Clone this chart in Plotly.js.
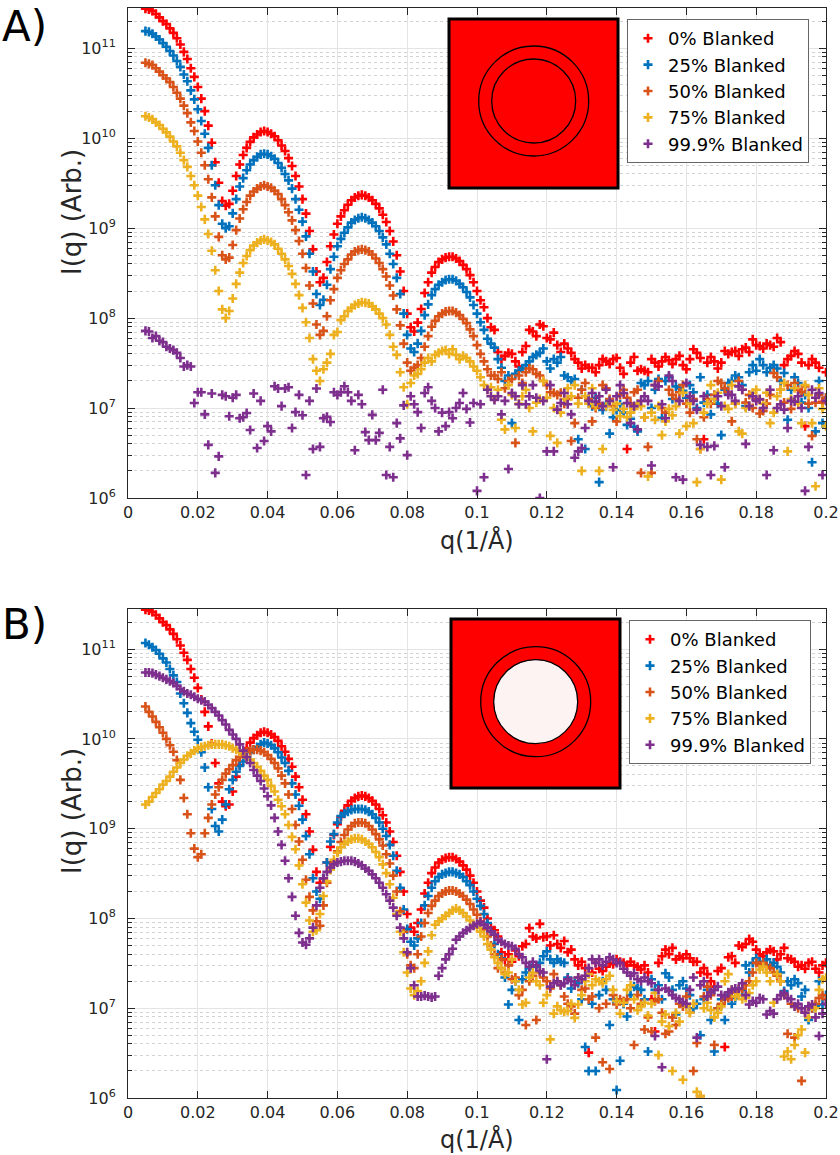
<!DOCTYPE html>
<html><head><meta charset="utf-8">
<script src="https://cdn.plot.ly/plotly-3.0.1.min.js"></script>
<style>html,body{margin:0;padding:0;background:#fff}</style>
</head><body><div id="chart" style="width:840px;height:1155px"></div>
<script>
// scattering vector q (1/Å)
const q = [
0.005,0.006,0.007,0.008,0.009,0.010,0.011,0.012,0.013,0.014,
0.015,0.016,0.017,0.018,0.019,0.020,0.021,0.022,0.023,0.024,
0.025,0.026,0.027,0.028,0.029,0.030,0.031,0.032,0.033,0.034,
0.035,0.036,0.037,0.038,0.039,0.040,0.041,0.042,0.043,0.044,
0.045,0.046,0.047,0.048,0.049,0.050,0.051,0.052,0.053,0.054,
0.055,0.056,0.057,0.058,0.059,0.060,0.061,0.062,0.063,0.064,
0.065,0.066,0.067,0.068,0.069,0.070,0.071,0.072,0.073,0.074,
0.075,0.076,0.077,0.078,0.079,0.080,0.081,0.082,0.083,0.084,
0.085,0.086,0.087,0.088,0.089,0.090,0.091,0.092,0.093,0.094,
0.095,0.096,0.097,0.098,0.099,0.100,0.101,0.102,0.103,0.104,
0.105,0.106,0.107,0.108,0.109,0.110,0.111,0.112,0.113,0.114,
0.115,0.116,0.117,0.118,0.119,0.120,0.121,0.122,0.123,0.124,
0.125,0.126,0.127,0.128,0.129,0.130,0.131,0.132,0.133,0.134,
0.135,0.136,0.137,0.138,0.139,0.140,0.141,0.142,0.143,0.144,
0.145,0.146,0.147,0.148,0.149,0.150,0.151,0.152,0.153,0.154,
0.155,0.156,0.157,0.158,0.159,0.160,0.161,0.162,0.163,0.164,
0.165,0.166,0.167,0.168,0.169,0.170,0.171,0.172,0.173,0.174,
0.175,0.176,0.177,0.178,0.179,0.180,0.181,0.182,0.183,0.184,
0.185,0.186,0.187,0.188,0.189,0.190,0.191,0.192,0.193,0.194,
0.195,0.196,0.197,0.198,0.199,0.200];

const seriesNames = ['0% Blanked','25% Blanked','50% Blanked','75% Blanked','99.9% Blanked'];
const seriesColors = ['#FF0000','#0072BD','#D95319','#EDB120','#7E2F8E'];

// ---------- Panel A : I(q) ----------
const A_0 = [
2.75e11,2.7e11,2.6e11,2.4e11,2.2e11,2.0e11,1.86e11,1.66e11,1.48e11,1.29e11,
1.1e11,9.1e10,7.6e10,6.0e10,4.8e10,3.7e10,2.75e10,2.0e10,1.38e10,8.9e9,
5.4e9,3.2e9,2.0e9,1.78e9,1.86e9,2.6e9,3.8e9,5.1e9,6.5e9,7.8e9,
9.1e9,1.02e10,1.1e10,1.17e10,1.2e10,1.17e10,1.12e10,1.05e10,9.5e9,8.3e9,
7.2e9,6.0e9,4.9e9,3.8e9,2.9e9,2.1e9,1.45e9,9.3e8,5.8e8,3.3e8,
2.5e8,2.8e8,4.2e8,6.3e8,8.5e8,1.12e9,1.35e9,1.58e9,1.82e9,2.04e9,
2.19e9,2.29e9,2.34e9,2.29e9,2.19e9,2.04e9,1.86e9,1.66e9,1.41e9,1.17e9,
9.3e8,7.1e8,5.0e8,3.3e8,2.0e8,1.12e8,7.9e7,7.1e7,8.9e7,1.26e8,
1.9e8,2.5e8,3.2e8,3.7e8,4.2e8,4.5e8,4.7e8,4.8e8,4.8e8,4.6e8,
4.3e8,3.9e8,3.5e8,3.0e8,2.5e8,2.0e8,1.58e8,1.32e8,1.0e8,7.9e7,
7.4e7,4.2e7,3.5e7,3.8e7,4.1e7,4.0e7,3.3e7,2.9e7,4.2e7,4.9e7,
7.4e7,7.1e7,6.3e7,8.5e7,8.1e7,6.0e7,5.8e7,6.9e7,5.0e7,4.2e7,
5.2e7,4.6e7,4.1e7,3.5e7,3.2e7,2.75e7,3.0e7,2.8e7,2.8e7,2.5e7,
3.0e7,3.5e7,3.3e7,3.1e7,3.5e7,3.6e7,2.8e7,2.4e7,3.5e6,3.2e7,
3.7e7,2.6e7,2.7e7,2.6e7,2.5e7,3.5e7,3.2e7,2.9e7,3.3e7,3.7e7,
3.4e7,3.1e7,3.5e7,3.8e7,3.0e7,2.7e7,3.5e7,4.5e7,4.1e7,3.6e7,
4.5e6,3.2e7,3.7e7,3.3e7,2.75e7,3.2e7,4.3e7,4.0e7,4.2e7,4.3e7,
3.8e7,4.5e7,4.7e7,4.2e7,5.8e7,5.0e7,4.9e7,4.6e7,5.2e7,5.0e7,
4.8e7,6.0e7,5.4e7,3.0e7,3.5e7,3.8e7,4.3e7,4.0e7,3.2e7,6.3e6,
3.0e7,3.5e7,3.2e7,2.8e7,1.17e7,2.5e7];

const A_25 = [
1.55e11,1.52e11,1.45e11,1.35e11,1.25e11,1.14e11,1.04e11,9.3e10,8.3e10,7.2e10,
6.2e10,5.1e10,4.3e10,3.4e10,2.7e10,2.1e10,1.55e10,1.12e10,7.8e9,5.0e9,
3.0e9,1.8e9,1.12e9,1.0e9,1.05e9,1.46e9,2.1e9,2.9e9,3.6e9,4.4e9,
5.1e9,5.7e9,6.2e9,6.6e9,6.7e9,6.6e9,6.3e9,5.9e9,5.3e9,4.7e9,
4.0e9,3.4e9,2.75e9,2.1e9,1.6e9,1.18e9,8.1e8,5.2e8,3.3e8,1.85e8,
1.4e8,1.6e8,2.35e8,3.5e8,4.8e8,6.3e8,7.6e8,8.9e8,1.02e9,1.15e9,
1.23e9,1.29e9,1.32e9,1.29e9,1.23e9,1.15e9,1.05e9,9.3e8,7.9e8,6.6e8,
5.2e8,4.0e8,2.8e8,1.85e8,1.12e8,6.5e7,4.6e7,4.2e7,5.2e7,7.2e7,
1.08e8,1.42e8,1.8e8,2.1e8,2.35e8,2.5e8,2.65e8,2.7e8,2.7e8,2.6e8,
2.4e8,2.2e8,1.95e8,1.7e8,1.4e8,1.12e8,9.0e7,7.4e7,5.9e7,5.2e7,
4.7e7,3.5e7,2.8e7,2.0e7,2.3e7,6.8e6,2.4e7,2.6e7,2.75e7,3.0e7,
3.3e7,3.7e7,3.9e7,4.1e7,4.6e7,3.3e7,2.75e7,3.5e7,3.2e7,3.7e7,
2.3e7,2.2e7,2.0e7,2.1e7,4.5e6,1.6e7,3.5e6,1.26e7,1.05e7,1.3e7,
1.5e6,9.5e6,1.12e7,5.2e6,7.9e6,9.5e6,1.1e7,8.9e6,6.5e6,7.6e6,
6.2e6,5.5e6,1.9e7,1.8e7,2.0e7,1.0e7,1.6e7,2.1e7,7.8e6,2.0e7,
2.2e7,1.26e7,1.74e7,1.66e7,1.55e7,1.3e7,1.8e7,1.5e7,1.0e7,2.2e7,
1.15e7,1.4e7,8.5e6,1.26e7,1.12e7,5.0e6,1.6e7,1.9e7,2.0e7,2.3e7,
2.2e7,1.8e7,1.05e7,2.5e7,3.0e7,2.6e7,3.5e7,3.0e7,2.5e7,2.8e7,
3.0e7,2.75e7,2.0e7,2.45e7,7.4e6,1.6e7,2.2e7,1.9e7,1.15e7,1.4e7,
1.0e7,2.5e6,5.5e6,2.0e7,6.8e6,1.3e7];

const A_50 = [
6.9e10,6.7e10,6.5e10,6.0e10,5.5e10,5.0e10,4.6e10,4.2e10,3.7e10,3.2e10,
2.75e10,2.3e10,1.9e10,1.5e10,1.2e10,9.2e9,6.9e9,5.0e9,3.5e9,2.2e9,
1.35e9,8.0e8,5.0e8,4.5e8,4.7e8,6.5e8,9.5e8,1.28e9,1.62e9,1.95e9,
2.3e9,2.55e9,2.75e9,2.9e9,3.0e9,2.9e9,2.8e9,2.6e9,2.4e9,2.1e9,
1.8e9,1.5e9,1.22e9,9.5e8,7.2e8,5.2e8,3.6e8,2.3e8,1.45e8,8.5e7,
6.5e7,7.2e7,1.05e8,1.58e8,2.1e8,2.8e8,3.4e8,4.0e8,4.5e8,5.1e8,
5.5e8,5.7e8,5.8e8,5.7e8,5.5e8,5.1e8,4.6e8,4.1e8,3.5e8,2.9e8,
2.3e8,1.78e8,1.25e8,8.3e7,5.2e7,3.2e7,2.6e7,2.8e7,3.0e7,3.6e7,
4.8e7,6.3e7,8.0e7,9.3e7,1.05e8,1.12e8,1.18e8,1.2e8,1.2e8,1.15e8,
1.08e8,9.8e7,8.8e7,7.5e7,6.3e7,5.0e7,4.0e7,3.3e7,2.7e7,2.3e7,
2.3e7,2.1e7,2.5e7,1.66e7,2.0e7,2.1e7,4.1e6,2.3e7,1.9e7,2.5e7,
2.75e7,2.7e7,2.4e7,2.3e7,2.0e7,1.8e7,1.5e7,1.48e7,1.4e7,1.48e7,
1.12e7,1.26e7,4.3e6,6.8e6,1.3e7,1.6e7,1.9e7,1.26e7,7.1e6,1.0e7,
1.12e7,1.8e7,1.66e7,1.26e7,1.05e7,7.1e6,1.4e7,1.6e7,1.3e7,1.12e7,
1.5e7,1.6e7,1.9e6,7.9e6,3.7e6,1.9e6,1.8e7,2.0e7,1.0e7,8.9e6,
1.6e7,1.4e7,1.26e7,1.5e7,1.8e7,1.12e7,8.9e6,1.26e7,4.5e6,3.5e6,
7.9e6,1.26e7,1.12e7,1.4e7,2.0e7,1.9e7,1.66e7,1.5e7,7.1e6,1.12e7,
2.0e7,1.6e7,1.15e7,1.4e7,1.0e7,1.26e7,8.7e6,9.3e6,1.12e7,1.4e7,
2.45e7,2.2e7,1.6e7,1.15e7,1.8e7,9.8e6,1.9e7,1.6e7,1.5e7,1.74e7,
1.12e7,4.9e6,1.15e7,1.4e7,1.15e7,1.3e7];

const A_75 = [
1.75e10,1.7e10,1.62e10,1.5e10,1.4e10,1.27e10,1.16e10,1.04e10,9.2e9,8.1e9,
6.9e9,5.7e9,4.8e9,3.8e9,3.0e9,2.3e9,1.72e9,1.25e9,8.6e8,5.6e8,
3.4e8,2.0e8,1.25e8,1.0e8,1.2e8,1.65e8,2.4e8,3.2e8,4.1e8,4.9e8,
5.7e8,6.4e8,6.9e8,7.3e8,7.5e8,7.3e8,7.0e8,6.6e8,5.9e8,5.2e8,
4.5e8,3.8e8,3.1e8,2.4e8,1.8e8,1.3e8,9.0e7,6.0e7,3.5e7,2.6e7,
2.0e7,2.7e7,3.2e7,4.0e7,6.5e7,7.0e7,9.5e7,1.05e8,1.2e8,1.3e8,
1.4e8,1.45e8,1.5e8,1.48e8,1.45e8,1.35e8,1.25e8,1.12e8,1.0e8,8.5e7,
6.5e7,4.8e7,3.9e7,2.5e7,1.7e7,1.1e7,1.9e7,2.3e7,2.4e7,2.7e7,
3.2e7,3.6e7,3.3e7,3.9e7,4.1e7,4.3e7,4.4e7,4.0e7,4.5e7,3.9e7,
3.5e7,3.8e7,3.6e7,3.3e7,2.9e7,2.6e7,2.2e7,1.8e7,1.6e7,1.7e7,
1.26e7,1.6e7,7.4e6,5.8e6,1.8e7,1.4e7,6.0e6,1.12e7,1.35e7,1.6e7,
1.0e7,5.5e6,1.15e7,1.26e7,2.0e7,1.3e7,4.9e6,1.0e7,4.1e6,8.9e6,
1.26e7,1.66e7,1.35e7,1.8e7,1.12e7,2.0e6,1.35e7,1.12e7,1.66e7,1.05e7,
2.0e6,3.5e6,1.05e7,1.2e7,9.5e6,1.12e7,8.1e6,9.8e6,7.9e6,8.9e6,
9.8e6,1.12e7,1.05e7,7.9e6,1.74e6,8.9e6,7.4e6,1.05e7,5.0e6,7.1e6,
9.8e6,8.3e6,1.05e7,5.2e6,1.48e7,6.3e6,1.12e7,6.8e6,1.5e6,3.5e6,
8.9e6,1.12e7,1.8e7,1.26e7,1.48e7,1.6e6,1.05e7,9.8e6,1.8e7,1.12e7,
5.5e6,5.2e6,1.0e7,1.05e7,1.48e7,1.6e7,1.26e7,1.12e7,1.48e7,6.8e6,
8.9e6,1.35e7,1.6e7,1.9e7,3.3e6,1.26e7,1.66e7,1.12e7,6.8e6,1.8e7,
1.4e7,6.8e6,1.35e6,1.66e7,9.8e6,6.3e6];

const A_999 = [
7.2e7,7.1e7,6.0e7,6.3e7,5.6e7,5.4e7,4.8e7,4.6e7,4.4e7,4.1e7,
3.6e7,2.9e7,3.0e7,2.9e7,1.14e7,1.5e7,1.5e7,8.5e6,3.9e6,1.45e7,
1.9e6,2.9e6,1.4e7,1.35e7,8.1e6,1.3e7,1.4e7,7.7e6,7.9e6,8.8e6,
5.7e6,1.45e7,3.6e6,1.2e7,4.3e6,6.3e6,5.5e6,1.75e7,1.65e7,1.05e7,
1.65e7,1.7e7,6.0e6,9.0e6,1.4e7,8.3e6,1.8e6,1.2e7,3.5e6,1.65e7,
3.7e6,7.7e6,8.0e6,7.0e6,1.5e7,1.4e7,1.5e7,1.75e7,1.5e7,1.2e7,
3.4e6,1.4e7,1.1e7,5.4e6,4.4e6,8.4e6,4.4e6,5.3e6,1.6e7,1.8e6,
3.7e6,1.7e6,6.8e6,4.6e6,1.07e7,3.0e6,1.35e7,1.1e7,9.0e6,6.0e6,
1.47e7,1.7e7,1.2e7,1.0e7,5.5e6,8.9e6,6.3e6,9.0e6,7.7e6,1.0e7,
1.14e7,1.47e7,9.8e6,6.9e6,1.14e7,1.2e6,1.1e7,1.7e6,1.6e7,1.35e7,
1.23e7,1.35e7,8.5e6,1.2e7,2.1e6,1.47e7,1.35e7,1.1e7,1.8e7,1.1e7,
1.35e7,1.8e7,1.3e7,1.0e6,1.2e7,3.3e6,1.8e7,3.3e6,9.6e6,1.14e7,
1.47e7,1.1e7,8.5e6,2.8e6,3.3e6,3.6e6,6.0e6,1.2e7,1.47e7,1.18e7,
1.35e7,1.05e7,1.6e7,1.2e7,2.2e6,1.35e7,1.8e7,1.47e7,1.14e7,6.8e6,
1.05e7,5.8e6,1.2e7,1.35e7,1.2e7,2.3e6,1.8e7,1.74e7,1.1e7,7.7e6,
2.3e7,2.0e7,1.7e6,1.2e7,1.6e6,1.9e7,1.35e7,1.2e7,9.6e6,3.9e6,
1.35e7,3.7e6,1.8e6,3.8e6,1.35e7,1.05e7,2.2e6,1.4e7,1.4e7,1.2e7,
1.74e7,1.6e7,4.0e6,1.05e7,1.35e7,1.2e7,1.25e7,1.0e7,1.8e6,1.6e7,
3.4e6,1.0e7,1.1e7,9.6e6,6.0e6,1.2e7,1.18e7,1.35e7,1.0e7,1.2e6,
3.7e6,1.6e7,1.3e7,1.47e7,1.8e6,1.2e7];

// ---------- Panel B : I(q) ----------
const B_0 = [
2.75e11,2.7e11,2.6e11,2.4e11,2.2e11,2.0e11,1.86e11,1.66e11,1.48e11,1.29e11,
1.1e11,9.1e10,7.6e10,6.0e10,4.8e10,3.7e10,2.75e10,2.0e10,1.38e10,8.9e9,
5.4e9,3.2e9,2.0e9,1.78e9,1.86e9,2.6e9,3.8e9,5.1e9,6.5e9,7.8e9,
9.1e9,1.02e10,1.1e10,1.17e10,1.2e10,1.17e10,1.12e10,1.05e10,9.5e9,8.3e9,
7.2e9,6.0e9,4.9e9,3.8e9,2.9e9,2.1e9,1.45e9,9.3e8,5.8e8,3.3e8,
2.5e8,2.8e8,4.2e8,6.3e8,8.5e8,1.12e9,1.35e9,1.58e9,1.82e9,2.04e9,
2.19e9,2.29e9,2.34e9,2.29e9,2.19e9,2.04e9,1.86e9,1.66e9,1.41e9,1.17e9,
9.3e8,7.1e8,5.0e8,3.3e8,2.0e8,1.12e8,7.9e7,7.1e7,8.9e7,1.26e8,
1.9e8,2.5e8,3.2e8,3.7e8,4.2e8,4.5e8,4.7e8,4.8e8,4.8e8,4.6e8,
4.3e8,3.9e8,3.5e8,3.0e8,2.5e8,2.0e8,1.58e8,1.32e8,1.0e8,7.9e7,
7.4e7,6.3e7,4.2e7,3.5e7,4.0e7,3.3e7,4.4e7,3.8e7,4.9e7,5.2e7,
7.8e7,6.3e7,6.0e7,8.7e7,6.2e7,6.3e7,5.0e7,6.5e7,5.2e7,4.7e7,
5.6e7,4.2e7,4.5e7,3.5e7,3.0e7,3.3e7,2.8e7,3.2e6,2.5e7,3.2e7,
2.75e7,2.6e7,2.9e7,3.2e7,3.1e7,3.5e7,3.3e7,3.2e7,3.0e7,3.3e7,
3.0e7,2.9e7,2.7e7,3.0e7,2.5e7,1.26e7,5.5e6,3.2e7,3.8e7,4.5e7,
4.0e7,4.7e7,3.5e7,3.8e7,3.6e7,4.0e7,3.6e7,3.3e7,3.3e7,2.5e7,
2.8e7,2.4e7,2.0e7,1.74e7,2.6e7,2.8e7,3.7e6,3.7e7,3.8e7,3.2e7,
5.0e7,4.8e7,5.2e7,5.9e7,5.5e7,4.5e7,4.0e7,3.8e7,4.2e7,4.5e7,
4.3e7,3.5e7,4.0e7,4.7e7,3.6e7,3.5e7,3.3e7,2.9e7,3.0e7,2.75e7,
3.2e7,3.3e7,2.75e7,2.5e7,3.0e7,3.2e7];

const B_25 = [
1.17e11,1.12e11,1.05e11,9.8e10,8.9e10,7.9e10,7.1e10,6.0e10,5.1e10,4.3e10,
3.2e10,2.5e10,1.95e10,1.5e10,1.2e10,9.8e9,7.1e9,4.8e9,2.9e9,1.66e9,
1.07e9,9.3e8,1.26e9,1.86e9,2.75e9,3.5e9,4.3e9,5.0e9,5.6e9,6.3e9,
7.1e9,7.6e9,8.1e9,8.7e9,9.1e9,8.9e9,8.5e9,7.9e9,7.1e9,6.2e9,
5.4e9,4.4e9,3.2e9,2.4e9,1.8e9,1.26e9,8.3e8,5.2e8,2.8e8,2.0e8,
1.66e8,2.8e8,4.2e8,7.2e8,8.7e8,1.17e9,1.38e9,1.48e9,1.55e9,1.62e9,
1.66e9,1.66e9,1.66e9,1.62e9,1.55e9,1.45e9,1.32e9,1.17e9,1.0e9,8.3e8,
6.6e8,5.0e8,3.4e8,2.2e8,1.26e8,7.6e7,5.5e7,5.0e7,6.0e7,8.9e7,
1.4e8,1.78e8,2.2e8,2.6e8,2.9e8,3.1e8,3.2e8,3.3e8,3.3e8,3.2e8,
3.1e8,2.9e8,2.6e8,2.35e8,2.0e8,1.66e8,1.38e8,1.12e8,8.9e7,7.1e7,
5.2e7,4.0e7,3.6e7,2.2e7,1.1e7,1.6e7,2.0e7,7.4e6,2.1e7,2.5e7,
2.8e7,3.0e7,2.9e7,3.2e7,3.8e7,4.3e7,3.5e7,3.2e7,3.5e7,3.3e7,
3.2e7,2.2e7,1.66e7,2.0e7,1.9e7,1.26e7,3.7e6,2.0e6,1.12e7,2.0e6,
1.4e7,2.0e7,1.6e7,6.5e6,1.26e7,1.23e6,2.6e6,1.12e7,8.1e6,1.4e7,
1.74e7,1.66e7,1.6e7,1.26e7,3.3e6,2.1e7,1.6e7,1.8e7,1.26e7,2.45e7,
2.2e7,1.6e7,8.5e6,1.8e7,2.0e7,1.66e7,1.4e7,1.0e7,1.12e7,5.0e6,
1.26e7,1.6e7,7.4e6,3.3e6,1.0e7,1.26e7,7.4e6,1.4e7,1.12e7,1.3e7,
1.4e7,1.6e7,3.0e7,2.5e7,3.2e7,3.6e7,3.3e7,3.2e7,3.5e7,3.0e7,
3.2e7,2.9e7,2.5e7,1.55e7,2.0e7,1.8e7,2.1e7,1.9e7,1.35e7,1.6e7,
7.4e6,1.0e7,1.05e7,2.0e7,1.1e7,1.4e7];

const B_50 = [
2.3e10,2.0e10,1.78e10,1.55e10,1.35e10,1.17e10,1.0e10,8.5e9,7.2e9,5.8e9,
3.5e9,2.2e9,1.45e9,8.9e8,6.0e8,4.8e8,5.2e8,8.9e8,1.32e9,1.86e9,
2.4e9,2.9e9,3.5e9,4.1e9,4.6e9,5.1e9,5.8e9,6.3e9,6.8e9,7.2e9,
7.4e9,7.6e9,7.6e9,7.4e9,7.1e9,6.6e9,6.0e9,5.4e9,4.7e9,3.9e9,
3.2e9,2.4e9,1.66e9,1.1e9,7.2e8,4.5e8,2.7e8,1.74e8,1.23e8,9.3e7,
8.3e7,1.4e8,2.5e8,3.5e8,4.2e8,5.6e8,7.1e8,8.5e8,9.8e8,1.07e9,
1.15e9,1.17e9,1.17e9,1.15e9,1.07e9,9.8e8,8.7e8,7.6e8,6.5e8,5.2e8,
4.1e8,3.0e8,2.0e8,1.2e8,7.1e7,4.0e7,3.0e7,2.8e7,4.0e7,6.3e7,
8.9e7,1.15e8,1.38e8,1.58e8,1.78e8,1.9e8,2.0e8,2.05e8,2.05e8,2.0e8,
1.9e8,1.78e8,1.62e8,1.45e8,1.26e8,1.1e8,9.3e7,7.6e7,6.3e7,5.0e7,
4.0e7,2.8e7,3.5e7,2.5e7,3.0e7,2.1e7,2.2e7,1.4e7,1.6e7,6.5e6,
2.0e7,2.3e7,7.4e6,2.5e7,2.2e7,2.0e7,1.66e7,2.4e7,2.0e7,1.8e7,
1.35e7,1.12e7,1.05e7,8.7e6,2.2e7,1.6e7,1.66e7,1.26e7,1.35e7,4.7e6,
1.0e7,2.5e6,1.12e7,2.1e6,1.4e7,1.1e7,1.26e7,1.2e7,1.26e7,1.0e7,
3.9e6,1.4e7,1.12e7,5.8e6,7.9e6,5.5e6,1.2e7,1.26e7,8.9e6,5.2e6,
5.5e6,7.9e6,6.5e6,1.12e7,1.05e7,1.35e7,8.9e6,2.0e6,4.1e6,1.05e6,
1.35e7,1.74e7,1.4e7,3.9e6,1.0e7,1.12e7,1.26e7,1.3e7,1.35e7,1.5e7,
1.6e7,1.66e7,1.8e7,2.0e7,2.5e7,3.2e7,3.0e7,3.2e7,2.9e7,2.8e7,
2.5e7,2.3e7,2.0e7,1.4e7,5.2e6,1.12e7,4.7e6,1.0e7,1.55e6,8.9e6,
1.05e7,1.0e7,1.12e7,1.3e7,1.4e7,1.26e7];

const B_75 = [
1.86e9,2.0e9,2.25e9,2.5e9,2.75e9,3.1e9,3.4e9,3.8e9,4.3e9,4.8e9,
5.4e9,5.9e9,6.5e9,6.9e9,7.4e9,7.8e9,8.1e9,8.3e9,8.5e9,8.7e9,
8.7e9,8.7e9,8.7e9,8.5e9,8.3e9,7.9e9,7.6e9,7.2e9,6.8e9,6.3e9,
5.9e9,5.4e9,4.9e9,4.4e9,3.9e9,3.5e9,3.0e9,2.6e9,2.1e9,1.78e9,
1.45e9,1.1e9,8.1e8,5.9e8,3.9e8,2.4e8,1.5e8,9.5e7,7.1e7,7.4e7,
1.12e8,1.78e8,2.6e8,3.5e8,4.5e8,5.4e8,6.2e8,6.8e8,7.2e8,7.6e8,
7.8e8,7.8e8,7.6e8,7.2e8,6.8e8,6.2e8,5.5e8,4.8e8,4.0e8,3.2e8,
2.4e8,1.7e8,1.12e8,7.1e7,4.2e7,2.5e7,1.66e7,1.4e7,1.55e7,2.0e7,
3.2e7,4.3e7,6.5e7,8.5e7,9.3e7,1.0e8,1.07e8,1.15e8,1.23e8,1.29e8,
1.23e8,1.15e8,1.05e8,9.5e7,8.5e7,7.9e7,7.1e7,6.3e7,5.2e7,4.5e7,
3.7e7,3.2e7,2.8e7,2.4e7,2.5e7,3.5e7,2.0e7,1.6e7,1.1e7,1.15e7,
2.2e7,2.5e7,2.0e7,1.8e7,1.15e7,1.4e7,4.5e6,8.7e6,1.05e7,9.5e6,
9.1e6,9.3e6,1.12e7,7.8e6,1.1e7,1.4e7,2.0e7,2.4e7,1.8e7,2.1e7,
2.0e7,1.9e7,2.1e7,2.3e7,1.6e7,1.2e7,8.7e6,1.15e7,1.6e7,1.8e7,
1.26e7,9.5e6,1.05e7,1.15e7,8.3e6,1.12e7,1.48e7,3.0e6,7.1e6,8.5e6,
6.3e6,2.0e6,8.9e6,7.1e6,1.6e6,1.05e7,8.9e6,1.12e7,1.17e6,1.05e6,
1.0e7,1.15e7,9.5e6,7.9e6,8.9e6,1.05e7,2.0e7,2.4e7,1.6e7,1.35e7,
1.4e7,1.26e7,1.3e7,1.48e7,1.8e7,2.0e7,2.7e7,2.9e7,2.5e7,2.0e7,
1.15e7,2.4e7,2.0e7,2.9e6,3.3e6,2.7e6,3.9e6,5.0e6,5.8e6,3.2e6,
7.9e6,1.05e7,1.0e7,1.6e7,2.1e7,2.2e7];

const B_999 = [
5.5e10,5.5e10,5.4e10,5.2e10,5.0e10,4.8e10,4.6e10,4.4e10,4.2e10,3.9e10,
3.6e10,3.4e10,3.2e10,3.1e10,2.95e10,2.8e10,2.7e10,2.6e10,2.4e10,2.2e10,
2.0e10,1.82e10,1.62e10,1.45e10,1.26e10,1.12e10,1.0e10,8.7e9,7.4e9,6.3e9,
5.4e9,4.5e9,3.9e9,3.4e9,2.8e9,2.3e9,1.82e9,1.32e9,9.3e8,6.6e8,
4.4e8,2.8e8,1.74e8,1.07e8,6.9e7,5.4e7,5.1e7,6.0e7,7.9e7,1.4e8,
2.2e8,2.8e8,3.3e8,3.7e8,4.0e8,4.2e8,4.3e8,4.4e8,4.4e8,4.4e8,
4.3e8,4.1e8,3.9e8,3.6e8,3.4e8,3.1e8,2.8e8,2.5e8,2.2e8,1.86e8,
1.58e8,1.32e8,1.07e8,7.9e7,6.0e7,4.2e7,2.8e7,1.8e7,1.35e7,1.35e7,
1.38e7,1.35e7,1.32e7,1.35e7,2.3e7,2.8e7,3.5e7,4.0e7,4.6e7,5.8e7,
6.3e7,6.9e7,7.4e7,7.8e7,8.3e7,8.7e7,9.1e7,8.5e7,7.9e7,7.2e7,
6.6e7,5.8e7,5.5e7,5.2e7,5.0e7,4.9e7,4.6e7,4.0e7,3.7e7,3.2e7,
2.9e7,3.3e7,3.0e7,2.6e7,2.5e7,2.7e6,1.74e7,1.9e7,2.0e7,1.8e7,
1.9e7,2.1e7,2.0e7,1.8e7,2.2e7,2.1e7,2.3e7,2.8e7,3.5e7,3.2e7,
3.5e7,3.0e7,3.3e7,3.7e7,3.5e7,3.2e7,3.2e7,2.75e7,2.5e7,2.3e7,
2.45e7,2.1e7,2.0e7,2.2e7,2.0e7,1.9e7,4.9e6,1.6e7,2.2e6,1.66e7,
1.55e7,1.4e7,1.3e7,1.26e7,1.17e7,1.12e7,1.6e7,2.2e7,4.7e6,1.8e7,
2.0e7,1.35e7,1.5e7,1.6e7,1.74e7,1.4e7,1.35e7,1.5e7,1.6e7,1.66e7,
1.66e7,1.9e7,1.4e7,1.1e7,1.2e7,1.15e7,1.3e7,1.26e7,8.5e6,9.3e6,
8.7e6,1.26e7,1.4e7,1.48e7,1.3e7,1.26e7,1.05e7,1.12e7,1.0e7,8.9e6,
1.05e7,1.1e7,7.9e6,4.9e6,8.7e6,1.12e7];

// ---------- axes ticks ----------
const xTickVals = [0,0.02,0.04,0.06,0.08,0.1,0.12,0.14,0.16,0.18,0.2];
const xTickText = ['0','0.02','0.04','0.06','0.08','0.1','0.12','0.14','0.16','0.18','0.2'];
const yTickVals = [1e6,1e7,1e8,1e9,1e10,1e11];
const yTickText = ['10<sup>6</sup>','10<sup>7</sup>','10<sup>8</sup>','10<sup>9</sup>','10<sup>10</sup>','10<sup>11</sup>'];
const yTop = 2.8e11;
const yMinorVals = [];
for (let d = 6; d <= 11; d++) for (let m = 2; m <= 9; m++) { const v = m * Math.pow(10, d); if (v < yTop) yMinorVals.push(v); }

// ---------- geometry helpers (pixel -> paper) ----------
const L = 128, R = 826, T = 8, B = 1098;
const px = x => (x - L) / (R - L);
const py = y => (B - y) / (B - T);

const FONT = 'DejaVu Sans, Verdana, sans-serif';
const panelA = [A_0, A_25, A_50, A_75, A_999];
const panelB = [B_0, B_25, B_50, B_75, B_999];

const traces = [];
function addPanel(data, xa, ya, lg) {
  data.forEach((arr, i) => {
    traces.push({
      x: q, y: arr, type: 'scatter', mode: 'markers', name: seriesNames[i],
      xaxis: xa, yaxis: ya, legend: lg, hoverinfo: 'skip',
      marker: { symbol: 'cross-thin', size: 6.5, color: seriesColors[i],
                line: { color: seriesColors[i], width: 2.6 } }
    });
  });
}
addPanel(panelA, 'x', 'y', 'legend');
addPanel(panelB, 'x2', 'y2', 'legend2');

const tickFont = { family: FONT, size: 16, color: '#262626' };
function xAxis(anchor) {
  return { anchor, domain: [0, 1], range: [0, 0.2], tickmode: 'array', tickvals: xTickVals, ticktext: xTickText,
    ticks: 'inside', ticklen: 7, tickcolor: '#262626', showline: true, linecolor: '#262626', linewidth: 1,
    mirror: 'ticks', showgrid: true, gridcolor: '#e4e4e4', gridwidth: 1, zeroline: false, tickfont: tickFont,
    ticklabelstandoff: 0, fixedrange: true };
}
function yAxis(anchor, dom) {
  return { anchor, domain: dom, type: 'log', range: [6, Math.log10(yTop)], tickmode: 'array',
    tickvals: yTickVals, ticktext: yTickText, ticks: 'inside', ticklen: 7, tickcolor: '#262626',
    showline: true, linecolor: '#262626', linewidth: 1, mirror: 'ticks', showgrid: true,
    gridcolor: '#e4e4e4', gridwidth: 1, zeroline: false, tickfont: tickFont, ticklabelstandoff: 8,
    fixedrange: true,
    minor: { tickmode: 'array', tickvals: yMinorVals, ticks: 'inside', ticklen: 4, tickcolor: '#262626',
             showgrid: true, gridcolor: '#d2d2d2', griddash: 'dot', gridwidth: 1 } };
}

function legendAt(x, y) {
  return { x: px(x), y: py(y), xanchor: 'left', yanchor: 'top', bgcolor: '#ffffff',
    bordercolor: '#666666', borderwidth: 1, font: { family: FONT, size: 18, color: '#000' },
    tracegroupgap: 0, itemwidth: 30 };
}

function inset(x0, y0, size, cx, cy, rOut, rIn, innerFill) {
  return [
    { type: 'rect', xref: 'paper', yref: 'paper', x0: px(x0), x1: px(x0 + size), y0: py(y0 + size), y1: py(y0),
      fillcolor: '#FF0000', line: { color: '#000', width: 3 }, layer: 'above' },
    { type: 'circle', xref: 'paper', yref: 'paper', x0: px(cx - rOut), x1: px(cx + rOut), y0: py(cy + rOut), y1: py(cy - rOut),
      fillcolor: '#FF0000', line: { color: '#000', width: 1.3 }, layer: 'above' },
    { type: 'circle', xref: 'paper', yref: 'paper', x0: px(cx - rIn), x1: px(cx + rIn), y0: py(cy + rIn), y1: py(cy - rIn),
      fillcolor: innerFill, line: { color: '#000', width: 1.3 }, layer: 'above' }
  ];
}

const ann = (text, x, y, size, opts) => Object.assign({ text, xref: 'paper', yref: 'paper', x: px(x), y: py(y),
  showarrow: false, font: { family: FONT, size, color: '#262626' } }, opts || {});

const layout = {
  width: 840, height: 1155, paper_bgcolor: '#fff', plot_bgcolor: '#fff',
  margin: { l: L, r: 840 - R, t: T, b: 1155 - B },
  showlegend: true,
  xaxis: xAxis('y'), yaxis: yAxis('x', [py(498), py(8)]),
  xaxis2: xAxis('y2'), yaxis2: yAxis('x2', [py(1098), py(609)]),
  legend: legendAt(627, 19), legend2: legendAt(629, 620),
  shapes: [].concat(
    inset(449, 19, 169, 533.7, 101, 55, 42, '#FF0000'),
    inset(451, 619, 169, 535.7, 701.7, 55, 42, '#FDF3F3')),
  annotations: [
    ann('A)', 0, 0, 42, { xanchor: 'left', yanchor: 'top', font: { family: FONT, size: 42, color: '#000' } }),
    ann('B)', 0, 598, 42, { xanchor: 'left', yanchor: 'top', font: { family: FONT, size: 42, color: '#000' } }),
    ann('I(q) (Arb.)', 72, 212, 26, { textangle: -90, xanchor: 'center', yanchor: 'middle' }),
    ann('I(q) (Arb.)', 72, 811, 26, { textangle: -90, xanchor: 'center', yanchor: 'middle' }),
    ann('q(1/Å)', 477, 540, 24, { xanchor: 'center', yanchor: 'middle' }),
    ann('q(1/Å)', 477, 1139, 24, { xanchor: 'center', yanchor: 'middle' })
  ]
};

Plotly.newPlot('chart', traces, layout, { staticPlot: true, displayModeBar: false });
</script></body></html>
